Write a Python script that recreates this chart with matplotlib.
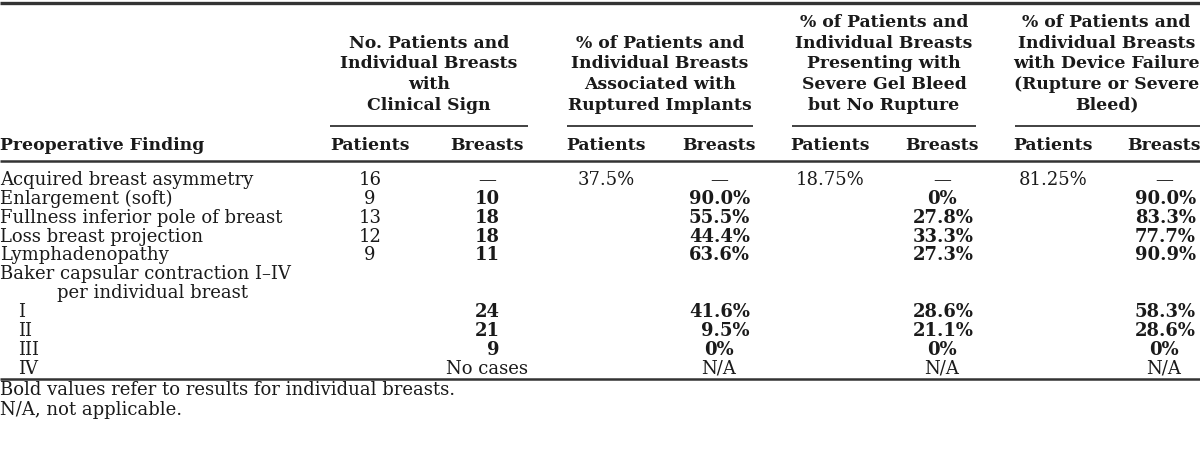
import matplotlib
matplotlib.use("Agg")
import matplotlib.pyplot as plt

# table content
findings = ["Acquired breast asymmetry", "Enlargement (soft)",
            "Fullness inferior pole of breast", "Loss breast projection",
            "Lymphadenopathy", "Baker capsular contraction I\u2013IV",
            "per individual breast", "I", "II", "III", "IV"]
indent = [0, 0, 0, 0, 0, 0, 57, 18, 18, 18, 18]

pat_count = ["16", "9", "13", "12", "9", "", "", "", "", "", ""]
breast_count = ["\u2014", "10", "18", "18", "11", "", "", "24", "21", "9", "No cases"]
rupt_pat = ["37.5%", "", "", "", "", "", "", "", "", "", ""]
rupt_breast = ["\u2014", "90.0%", "55.5%", "44.4%", "63.6%", "", "", "41.6%", "9.5%", "0%", "N/A"]
bleed_pat = ["18.75%", "", "", "", "", "", "", "", "", "", ""]
bleed_breast = ["\u2014", "0%", "27.8%", "33.3%", "27.3%", "", "", "28.6%", "21.1%", "0%", "N/A"]
fail_pat = ["81.25%", "", "", "", "", "", "", "", "", "", ""]
fail_breast = ["\u2014", "90.0%", "83.3%", "77.7%", "90.9%", "", "", "58.3%", "28.6%", "0%", "N/A"]

group_titles = [
    ["No. Patients and", "Individual Breasts", "with", "Clinical Sign"],
    ["% of Patients and", "Individual Breasts", "Associated with", "Ruptured Implants"],
    ["% of Patients and", "Individual Breasts", "Presenting with", "Severe Gel Bleed", "but No Rupture"],
    ["% of Patients and", "Individual Breasts", "with Device Failure", "(Rupture or Severe", "Bleed)"],
]
footnotes = ["Bold values refer to results for individual breasts.", "N/A, not applicable."]

# layout (pixels)
W, H = 1200, 465
FS = 13
HFS = 12.4
pat_x = [370, 606, 830, 1053]
br_center = [487, 719, 942, 1164]
br_right = [500, 750, 974, 1196]
span = [(330, 528), (567, 753), (792, 976), (1015, 1200)]
row_y0, row_dy = 180, 18.85

fig = plt.figure(figsize=(W / 100, H / 100), dpi=100)
ax = fig.add_axes([0, 0, 1, 1])
ax.set_xlim(0, W)
ax.set_ylim(H, 0)
ax.axis("off")
plt.rcParams['font.family'] = ['DejaVu Serif']
col = "#1a1a1a"

def txt(x, y, s, ha="left", bold=False, size=FS):
    ax.text(x, y, s, ha=ha, va="center", fontsize=size, color=col,
            fontweight="bold" if bold else "normal", family="DejaVu Serif")

# rules
ax.plot([0, W], [3, 3], color="#333333", lw=2.4, solid_capstyle="butt")
ax.plot([0, W], [161, 161], color="#333333", lw=1.8, solid_capstyle="butt")
ax.plot([0, W], [379, 379], color="#333333", lw=1.8, solid_capstyle="butt")
for a, b in span:
    ax.plot([a, b], [126, 126], color="#333333", lw=1.3, solid_capstyle="butt")

# group headers
for g, lines in enumerate(group_titles):
    cx = (span[g][0] + span[g][1]) / 2
    if g == 3:
        cx -= 1
    n = len(lines)
    for k, s in enumerate(lines):
        y = 105 - (n - 1 - k) * 20.6
        txt(cx, y, s, ha="center", bold=True, size=HFS)

# sub headers
txt(0, 145, "Preoperative Finding", bold=True, size=HFS)
for g in range(4):
    txt(pat_x[g], 145, "Patients", ha="center", bold=True, size=HFS)
    txt(br_center[g], 145, "Breasts", ha="center", bold=True, size=HFS)

# body
pats = [pat_count, rupt_pat, bleed_pat, fail_pat]
brs = [breast_count, rupt_breast, bleed_breast, fail_breast]
for i, name in enumerate(findings):
    y = row_y0 + i * row_dy
    txt(indent[i], y, name)
    for g in range(4):
        if pats[g][i]:
            txt(pat_x[g], y, pats[g][i], ha="center")
        v = brs[g][i]
        if not v:
            continue
        if v in ("\u2014", "N/A", "No cases"):
            txt(br_center[g], y, v, ha="center")
        elif v == "0%":
            txt(br_center[g], y, v, ha="center", bold=True)
        else:
            txt(br_right[g], y, v, ha="right", bold=True)

for k, s in enumerate(footnotes):
    txt(0, 390 + k * 19.5, s)

fig.savefig("out.png", dpi=100)
